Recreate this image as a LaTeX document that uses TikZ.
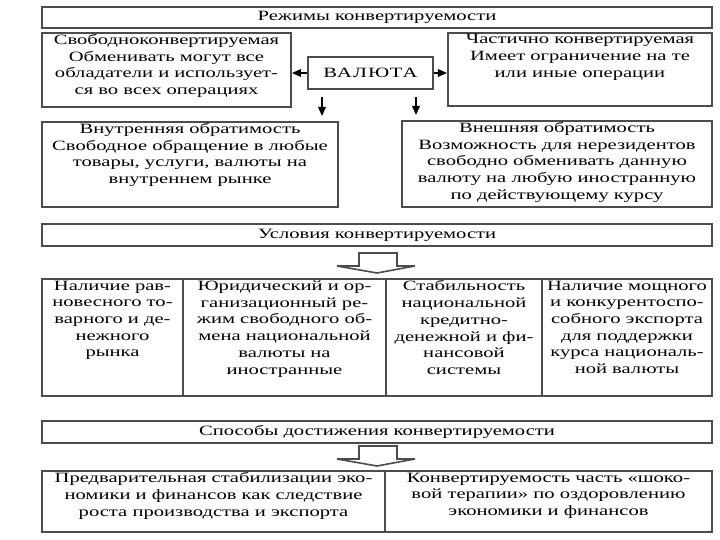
\documentclass[tikz,border=0pt]{standalone}
\usepackage{fontspec}
\setmainfont{Liberation Serif}[FakeStretch=1.45]
\usetikzlibrary{arrows.meta,calc}
\newcommand\diagfont{\fontsize{7.1}{8.35}\selectfont}

\begin{document}
\begin{tikzpicture}[x=0.5pt,y=-0.5pt]
    \def\u{0.5pt}
    \tikzstyle{frame}=[draw=black!70, line width=1pt, inner sep=0pt, anchor=north west, font=\diagfont]
    \tikzstyle{txt}=[align=center, inner sep=0pt, anchor=north, font=\diagfont]
    \tikzstyle{arr}=[-{Triangle[length=4.5pt,width=3.8pt]}, line width=0.8pt, black]
    \tikzstyle{hollow}=[draw=black!70, line width=0.8pt, fill=white]

    \useasboundingbox (0,0) rectangle (720,540);

    % Regimes of convertibility
    \node[frame, minimum width=670*\u, minimum height=21*\u] (modes) at (41,6) {Режимы конвертируемости};
    \node[frame, minimum width=249*\u, minimum height=74*\u] (free) at (41,32) {};
    \node[txt] (free-t) at ([yshift=-1pt]free.north) {Свободноконвертируемая\\Обменивать могут все\\обладатели и использует-\\ся во всех операциях};
    \node[frame, minimum width=264*\u, minimum height=73*\u] (part) at (447,32) {};
    \node[txt] (part-t) at ([yshift=-1pt]part.north) {Частично конвертируемая\\Имеет ограничение на те\\или иные операции};
    \node[frame, minimum width=125*\u, minimum height=32*\u] (val) at (307,56) {\addfontfeature{LetterSpace=8}ВАЛЮТА};

    \node[frame, minimum width=296*\u, minimum height=85*\u] (inner) at (41,121) {};
    \node[txt] (inner-t) at ([yshift=-1pt]inner.north) {Внутренняя обратимость\\Свободное обращение в любые\\товары, услуги, валюты на\\внутреннем рынке};
    \node[frame, minimum width=310*\u, minimum height=86*\u] (outer) at (401,120) {};
    \node[txt] (outer-t) at ([yshift=-1pt]outer.north) {Внешняя обратимость\\Возможность для нерезидентов\\свободно обменивать данную\\валюту на любую иностранную\\по действующему курсу};

    % Arrows from the currency
    \draw[arr] (val.west) -- (free.east |- val.west);
    \draw[arr] (val.east) -- (part.west |- val.east);
    \coordinate (d1) at ($(val.south west)+(15,0)$);
    \coordinate (d2) at ($(val.south east)+(-18,0)$);
    \draw[arr, shorten <=3.5pt, shorten >=2.5pt] (d1) -- (d1 |- inner.north);
    \draw[arr, shorten <=3.5pt, shorten >=2.5pt] (d2) -- (d2 |- outer.north);

    % Conditions of convertibility
    \node[frame, minimum width=670*\u, minimum height=22*\u] (cond) at (41,223) {Условия конвертируемости};
    \foreach \n/\xa/\xb/\txt in {1/41/182/{Наличие рав-\\новесного то-\\варного и де-\\нежного\\рынка},
        2/182/385/{Юридический и ор-\\ганизационный ре-\\жим свободного об-\\мена национальной\\валюты на\\иностранные},
        3/385/541/{Стабильность\\национальной\\кредитно-\\денежной и фи-\\нансовой\\системы},
        4/541/711/{Наличие мощного\\и конкурентоспо-\\собного экспорта\\для поддержки\\курса националь-\\ной валюты}}
    {
        \node[frame, minimum width=(\xb-\xa)*\u, minimum height=117*\u] (C-\n) at (\xa,278) {};
        \node[txt] (C-\n-t) at ([yshift=-1.2pt]C-\n.north) {\txt};
    }

    % Ways of reaching convertibility
    \node[frame, minimum width=670*\u, minimum height=22*\u] (ways) at (41,420) {Способы достижения конвертируемости};
    \node[frame, minimum width=343*\u, minimum height=61*\u] (W-1) at (41,470) {};
    \node[txt] (W-1-t) at ([yshift=-1.2pt]W-1.north) {Предварительная стабилизации эко-\\номики и финансов как следствие\\роста производства и экспорта};
    \node[frame, minimum width=327*\u, minimum height=61*\u] (W-2) at (384,470) {};
    \node[txt] (W-2-t) at ([yshift=-1.2pt]W-2.north) {Конвертируемость часть «шоко-\\вой терапии» по оздоровлению\\экономики и финансов};

    % Hollow block arrows
    \foreach \y in {253,446}
        \draw[hollow] (359,\y) -- ++(38,0) -- ++(0,13) -- ++(18,0) -- ++(-38,7)
            -- ++(-40,-7) -- ++(22,0) -- cycle;
\end{tikzpicture}
\end{document}
